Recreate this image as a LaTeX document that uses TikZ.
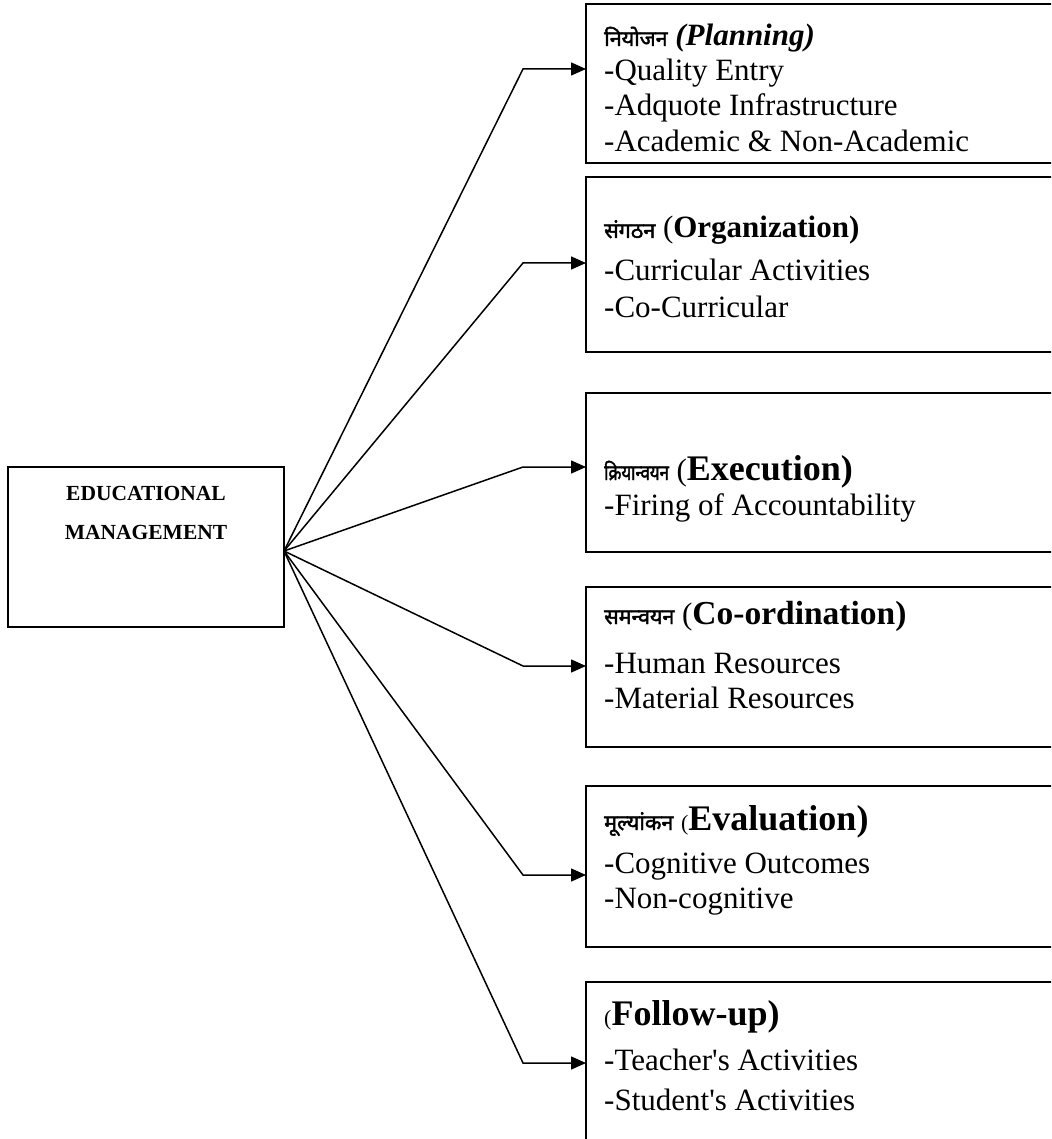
\documentclass[tikz,border=0pt]{standalone}
\usepackage{graphicx}
\usepackage{fontspec}
\setmainfont{Liberation Serif}
\newfontfamily\hindi[Script=Devanagari,FakeBold=2]{Noto Sans}
\usetikzlibrary{arrows.meta}
\newcommand\myfs[1]{\fontsize{#1}{#1}\selectfont}
\newcommand\hin[1]{{\hindi\myfs{21.5}#1}}
\begin{document}
\begin{tikzpicture}[x=1pt,y=-1pt,
  box/.style={draw, line width=2pt, anchor=north west, inner sep=0pt, outer sep=0pt, minimum width=520pt},
  txt/.style={anchor=base west, inner sep=0pt, font=\myfs{31}},
  conn/.style={line width=1.5pt, -{Triangle[length=15pt,width=13pt]}}]
\useasboundingbox (0,0) rectangle (1051,1139);
\clip (0,0) rectangle (1051,1139);
\fill[white] (0,0) rectangle (1051,1139);

% central box
\node[draw, line width=2pt, anchor=north west, inner sep=0pt, outer sep=0pt,
      minimum width=276pt, minimum height=160pt] (em) at (8,467) {};
\node[anchor=base, inner sep=0pt, font=\bfseries\myfs{21.5}] (emA) at (146,500) {EDUCATIONAL};
\node[anchor=base, inner sep=0pt, font=\bfseries\myfs{21.5}] (emB) at (146,539) {MANAGEMENT};
\coordinate (hub) at ([yshift=-4pt]em.east);

% right boxes
\node[box, minimum height=159pt] (b1) at (586,4) {};
\node[box, minimum height=175pt] (b2) at (586,177) {};
\node[box, minimum height=159pt] (b3) at (586,393) {};
\node[box, minimum height=160pt] (b4) at (586,587) {};
\node[box, minimum height=161pt] (b5) at (586,786) {};
\node[box, minimum height=220pt] (b6) at (586,982) {};

% bends
\coordinate (k1) at (523,69);
\coordinate (k2) at (523,263);
\coordinate (k3) at (523,467);
\coordinate (k4) at (523,666);
\coordinate (k5) at (523,875);
\coordinate (k6) at (523,1063);

\draw[conn] (hub) -- (k1) -- (k1 -| b1.west);
\draw[conn] (hub) -- (k2) -- (k2 -| b2.west);
\draw[conn] (hub) -- (k3) -- (k3 -| b3.west);
\draw[conn] (hub) -- (k4) -- (k4 -| b4.west);
\draw[conn] (hub) -- (k5) -- (k5 -| b5.west);
\draw[conn] (hub) -- (k6) -- (k6 -| b6.west);

% box 1
\node[txt] (h1) at (604,46) {\hin{नियोजन} {\bfseries\itshape (Planning)}};
\node[txt] (l1a) at (604,81) {-Quality Entry};
\node[txt] (l1b) at (604,116) {-Adquote Infrastructure};
\node[txt] (l1c) at (604,152) {-Academic \& Non-Academic};

% box 2
\node[txt] (h2) at (604,238) {\hin{संगठन} ({\bfseries\myfs{31}Organization)}};
\node[txt] (l2a) at (604,281) {-Curricular Activities};
\node[txt] (l2b) at (604,317) {-Co-Curricular};

% box 3
\node[txt] (h3) at (604,480) {\scalebox{0.78}[1]{\hin{क्रियान्वयन}} ({\bfseries\myfs{36}Execution)}};
\node[txt] (l3a) at (604,515) {-Firing of Accountability};

% box 4
\node[txt] (h4) at (604,624) {\hin{समन्वयन} ({\bfseries\myfs{33.5}Co-ordination)}};
\node[txt] (l4a) at (604,673) {-Human Resources};
\node[txt] (l4b) at (604,708) {-Material Resources};

% box 5
\node[txt] (h5) at (604,830) {\hin{मूल्यांकन} {\myfs{22}(}{\bfseries\myfs{36}Evaluation)}};
\node[txt] (l5a) at (604,873) {-Cognitive Outcomes};
\node[txt] (l5b) at (604,908) {-Non-cognitive};

% box 6
\node[txt] (h6) at (604,1025) {{\myfs{22}(}{\bfseries\myfs{36}Follow-up)}};
\node[txt] (l6a) at (604,1070) {-Teacher\textquotesingle s Activities};
\node[txt] (l6b) at (604,1110) {-Student\textquotesingle s Activities};
\end{tikzpicture}
\end{document}
